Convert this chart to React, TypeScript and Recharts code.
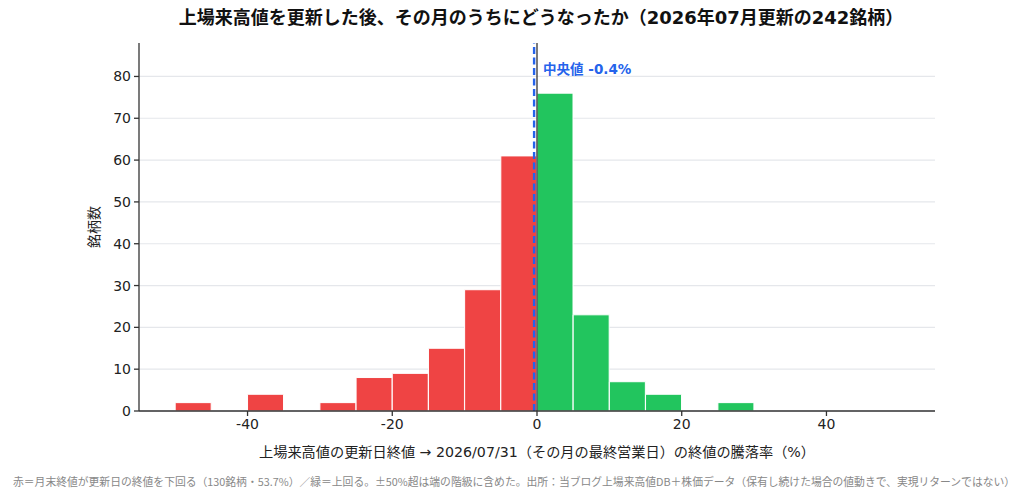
import React from "react";
import {
  ComposedChart,
  Bar,
  Cell,
  XAxis,
  YAxis,
  CartesianGrid,
  ReferenceLine,
} from "recharts";

// 5% bins, centre of each bin
const binCenters = [
  -47.5, -42.5, -37.5, -32.5, -27.5, -22.5, -17.5, -12.5, -7.5, -2.5,
  2.5, 7.5, 12.5, 17.5, 22.5, 27.5, 32.5, 37.5, 42.5, 47.5,
];
const binCounts = [2, 0, 4, 0, 2, 8, 9, 15, 29, 61, 76, 23, 7, 4, 0, 2, 0, 0, 0, 0];
const xTicks = [-40, -20, 0, 20, 40];
const yTicks = [0, 10, 20, 30, 40, 50, 60, 70, 80];
const median = -0.4;

const RED = "#ef4444";
const GREEN = "#22c55e";
const BLUE = "#2563eb";
const JP = '"DejaVu Sans", "Noto Sans CJK JP", sans-serif';

const data = binCenters.map((x, i) => ({ x, count: binCounts[i] }));

const MedianLabel = (props: any) => {
  const { viewBox } = props;
  return (
    <text
      x={viewBox.x + 9}
      y={viewBox.y + 31}
      fill={BLUE}
      fontSize={13.5}
      fontWeight={700}
      fontFamily={JP}
    >
      中央値 {median}%
    </text>
  );
};

export default function App() {
  return (
    <div style={{ position: "relative", width: 1008, height: 483, fontFamily: JP }}>
      <div
        style={{
          position: "absolute",
          left: 533,
          top: 0,
          transform: "translateX(-50%)",
          whiteSpace: "nowrap",
          fontSize: 18,
          fontWeight: 700,
          lineHeight: "20px",
          color: "#111",
        }}
      >
        上場来高値を更新した後、その月のうちにどうなったか（2026年07月更新の242銘柄）
      </div>
      <ComposedChart
        width={1008}
        height={483}
        data={data}
        margin={{ top: 35, right: 81, left: 71, bottom: 50 }}
        barCategoryGap={0}
        barGap={0}
      >
        <CartesianGrid
          vertical={false}
          horizontalValues={yTicks}
          stroke="#e5e7eb"
          strokeWidth={1.2}
        />
        <XAxis
          dataKey="x"
          type="number"
          domain={[-55, 55]}
          ticks={xTicks}
          height={30}
          tickSize={5}
          tickMargin={3}
          tick={{ fontSize: 14, fill: "#222", fontFamily: JP }}
          stroke="#333"
          strokeWidth={1.3}
        />
        <YAxis
          type="number"
          domain={[0, 88]}
          ticks={yTicks}
          width={60}
          tickSize={5}
          tickMargin={3}
          tick={{ fontSize: 14, fill: "#222", fontFamily: JP }}
          stroke="#333"
          strokeWidth={1.3}
        />
        <Bar dataKey="count" stroke="#fff" strokeWidth={1} isAnimationActive={false}>
          {data.map((d) => (
            <Cell key={d.x} fill={d.x < 0 ? RED : GREEN} />
          ))}
        </Bar>
        <ReferenceLine x={0} stroke="#333" strokeWidth={1.3} />
        <ReferenceLine
          x={median}
          stroke={BLUE}
          strokeWidth={2.4}
          strokeDasharray="7 3.5"
          label={<MedianLabel />}
        />
      </ComposedChart>
      <div
        style={{
          position: "absolute",
          left: 85,
          top: 219,
          transform: "translate(-50%, -50%) rotate(-90deg)",
          whiteSpace: "nowrap",
          fontSize: 14,
          color: "#222",
        }}
      >
        銘柄数
      </div>
      <div
        style={{
          position: "absolute",
          left: 529,
          top: 443,
          transform: "translate(-50%, -50%)",
          whiteSpace: "nowrap",
          fontSize: 14.2,
          color: "#222",
        }}
      >
        上場来高値の更新日終値 → 2026/07/31（その月の最終営業日）の終値の騰落率（%）
      </div>
      <div
        style={{
          position: "absolute",
          left: 5,
          top: 466,
          whiteSpace: "nowrap",
          fontSize: 10.8,
          lineHeight: "14px",
          color: "#888",
          fontFamily: '"Noto Sans CJK JP", sans-serif',
        }}
      >
        赤＝月末終値が更新日の終値を下回る（130銘柄・53.7%）／緑＝上回る。±50%超は端の階級に含めた。出所：当ブログ上場来高値DB＋株価データ（保有し続けた場合の値動きで、実現リターンではない）
      </div>
    </div>
  );
}
